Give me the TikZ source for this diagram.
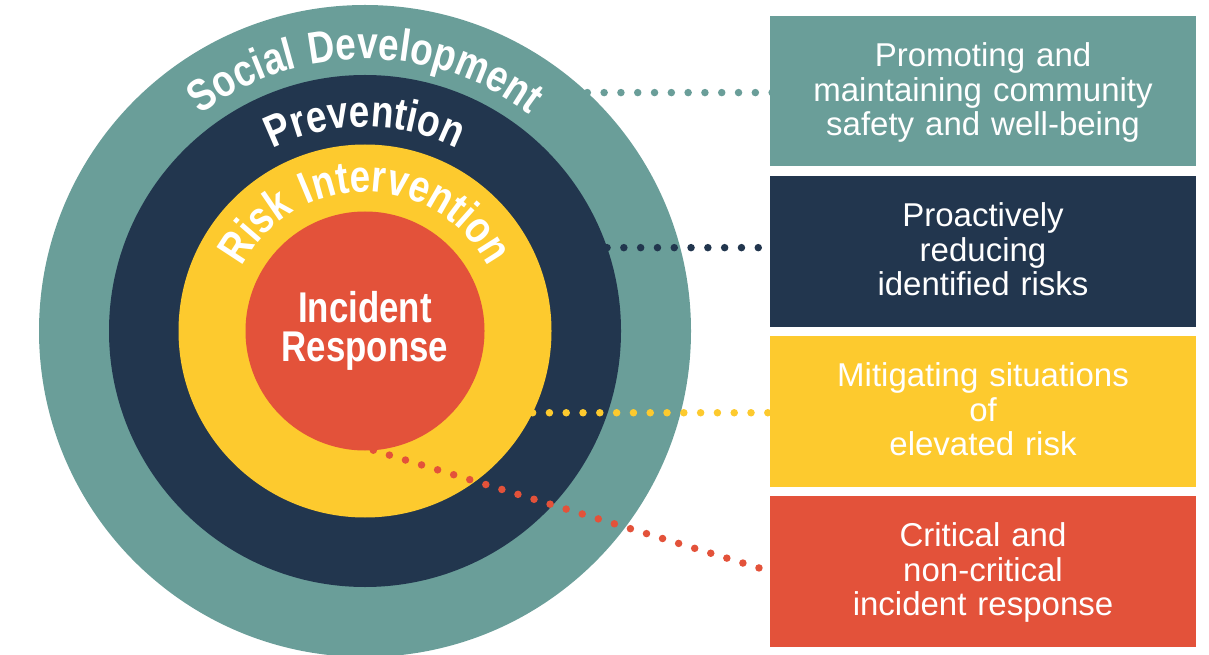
\documentclass[tikz,border=0pt]{standalone}
\usepackage{fontspec}
\setmainfont{Liberation Sans}
\newfontfamily\condfont[FakeStretch=0.81]{Liberation Sans}
\newfontfamily\arcfont[FakeStretch=0.82,LetterSpace=7]{Liberation Sans}
\usetikzlibrary{decorations.text,calc}
\definecolor{cteal}{HTML}{6A9E99}
\definecolor{cnavy}{HTML}{22364E}
\definecolor{cyellow}{HTML}{FDCA2E}
\definecolor{cred}{HTML}{E3523A}
\newcommand\topstrut{\rule{0pt}{30pt}}
\pgfdeclarelayer{bg}
\pgfdeclarelayer{mid}
\pgfsetlayers{bg,mid,main}
\begin{document}
\begin{tikzpicture}[x=1pt,y=1pt,
  ring/.style={circle, inner sep=0pt, outer sep=0pt, draw=none},
  infobox/.style={rectangle, inner sep=0pt, outer sep=0pt, minimum width=426pt, minimum height=150.5pt, text width=420pt, align=center, text=white, font=\fontsize{33}{34.5}\selectfont},
  dotline/.style={line width=7.5pt, line cap=round, dash pattern=on 0pt off 16.8pt}
]
\useasboundingbox (0,0) rectangle (1209,654);
\clip (0,0) rectangle (1209,654);
\coordinate (C) at (365,323);
\begin{pgfonlayer}{bg}
\node[ring, fill=cteal, minimum size=652pt] (sdc) at (C) {};
\node[ring, fill=cnavy, minimum size=512pt] (pvc) at (C) {};
\node[ring, fill=cyellow, minimum size=373pt] (ric) at (C) {};
\node[ring, fill=cred, minimum size=239pt] (irc) at (C) {};
\end{pgfonlayer}

\node[infobox, fill=cteal] (b1) at (983,562.75) {\topstrut Promoting and\\maintaining community\\safety and well-being\strut};
\node[infobox, fill=cnavy] (b2) at (983,402.7) {\topstrut Proactively\\reducing\\identified risks\strut};
\node[infobox, fill=cyellow] (b3) at (983,242.7) {\topstrut Mitigating situations\\of\\elevated risk\strut};
\node[infobox, fill=cred] (b4) at (983,82.7) {\topstrut Critical and\\non-critical\\incident response\strut};

\begin{pgfonlayer}{mid}
\draw[dotline, cteal] (sdc.47.7) -- ([xshift=12pt]sdc.47.7 -| b1.west);
\draw[dotline, cnavy] (pvc.19.2) -- ([xshift=12pt]pvc.19.2 -| b2.west);
\draw[dotline, cyellow] (ric.-26) -- ([xshift=12pt]ric.-26 -| b3.west);
\draw[dotline, cred] (irc.-86.6) -- ($(irc.-86.6)!1.03!(b4.west)$);
\end{pgfonlayer}

\path[decorate, decoration={text along path, text align=center, text color=white,
  text={|\arcfont\bfseries\fontsize{45}{45}\selectfont|Social Development}}]
  (C) ++(175:272) arc[start angle=175, end angle=5, radius=272];
\path[decorate, decoration={text along path, text align=center, text color=white,
  text={|\arcfont\bfseries\fontsize{45}{45}\selectfont|Prevention}}]
  (C) ++(175:204) arc[start angle=175, end angle=5, radius=204];
\path[decorate, decoration={text along path, text align=center, text color=white,
  text={|\arcfont\bfseries\fontsize{45}{45}\selectfont|Risk Intervention}}]
  (C) ++(178:139) arc[start angle=178, end angle=2, radius=139];

\node[font=\condfont\bfseries\fontsize{43}{39}\selectfont, text=white, align=center, inner sep=0pt] (irtext) at (C) {Incident\\Response};
\end{tikzpicture}
\end{document}
